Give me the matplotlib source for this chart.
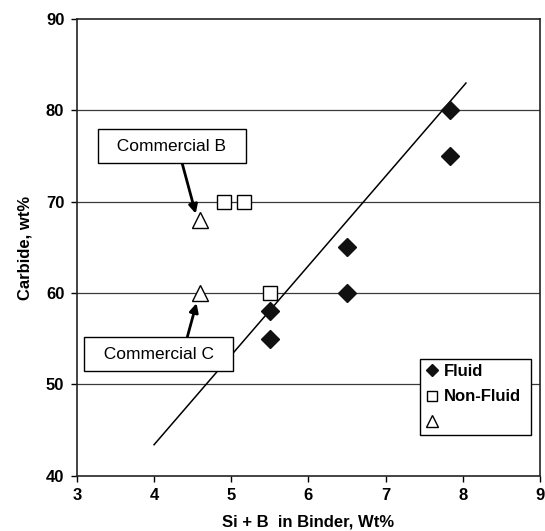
import matplotlib
matplotlib.use("Agg")
import matplotlib.pyplot as plt

plt.rcParams['font.family'] = ['Liberation Sans', 'DejaVu Sans']

# data
fluid_x = [5.5, 5.5, 6.5, 6.5, 7.83, 7.83]
fluid_y = [58, 55, 65, 60, 80, 75]
nonfluid_x = [4.9, 5.17, 5.5]
nonfluid_y = [70, 70, 60]
commercial_x = [4.6, 4.6]
commercial_y = [68, 60]
trend_x = [4.0, 8.04]
trend_y = [43.4, 83.0]

fig = plt.figure(figsize=(5.45, 5.31), dpi=100)
ax = fig.add_axes([0.141, 0.104, 0.85, 0.86])

for gy in [50, 60, 70, 80]:
    ax.axhline(gy, color='#3a3a3a', lw=0.9, zorder=1)

ax.plot(trend_x, trend_y, color='black', lw=1.1, zorder=2)

ax.plot(fluid_x, fluid_y, 'D', color='#111111', ms=8.8, ls='none',
        label='Fluid', zorder=3)
ax.plot(nonfluid_x, nonfluid_y, 's', mfc='white', mec='black', mew=1.0,
        ms=10.5, ls='none', label='Non-Fluid', zorder=3)
ax.plot(commercial_x, commercial_y, '^', mfc='white', mec='black', mew=1.0,
        ms=12, ls='none', label=' ', zorder=3)

bbox = dict(boxstyle='square,pad=0.55', fc='white', ec='black', lw=1.0)
ax.annotate('  Commercial B  ', xy=(4.54, 68.7), xytext=(4.23, 76.1),
            ha='center', va='center', fontsize=12.5, bbox=bbox,
            arrowprops=dict(arrowstyle='-|>', color='black', lw=2,
                            mutation_scale=13, relpos=(0.56, 0.0),
                            shrinkA=0, shrinkB=0))
ax.annotate('  Commercial C  ', xy=(4.55, 58.9), xytext=(4.06, 53.3),
            ha='center', va='center', fontsize=12.5, bbox=bbox,
            arrowprops=dict(arrowstyle='-|>', color='black', lw=2,
                            mutation_scale=13, relpos=(0.7, 1.0),
                            shrinkA=0, shrinkB=0))

ax.set_xlim(3, 9)
ax.set_ylim(40, 90)
ax.set_xticks(range(3, 10))
ax.set_yticks(range(40, 91, 10))
ax.tick_params(direction='out', length=4, width=1, labelsize=12, pad=5)
for lab in ax.get_xticklabels() + ax.get_yticklabels():
    lab.set_fontweight('bold')
for sp in ax.spines.values():
    sp.set_linewidth(1.2)
    sp.set_color('#222222')

ax.set_xlabel('Si + B  in Binder, Wt%', fontsize=12, fontweight='bold',
              labelpad=8)
ax.set_ylabel('Carbide, wt%', fontsize=12, fontweight='bold', labelpad=10)

leg = ax.legend(loc='lower left', bbox_to_anchor=(0.741, 0.09, 0.239, 0.181),
                mode='expand', prop={'weight': 'bold', 'size': 12},
                frameon=True, fancybox=False, markerscale=0.75,
                handlelength=0.8, handletextpad=0.3, borderpad=0.3,
                labelspacing=0.62, borderaxespad=0)
leg.get_frame().set_edgecolor('black')
leg.get_frame().set_linewidth(1.0)
leg.get_frame().set_alpha(1)

fig.savefig('out.png', dpi=100)
